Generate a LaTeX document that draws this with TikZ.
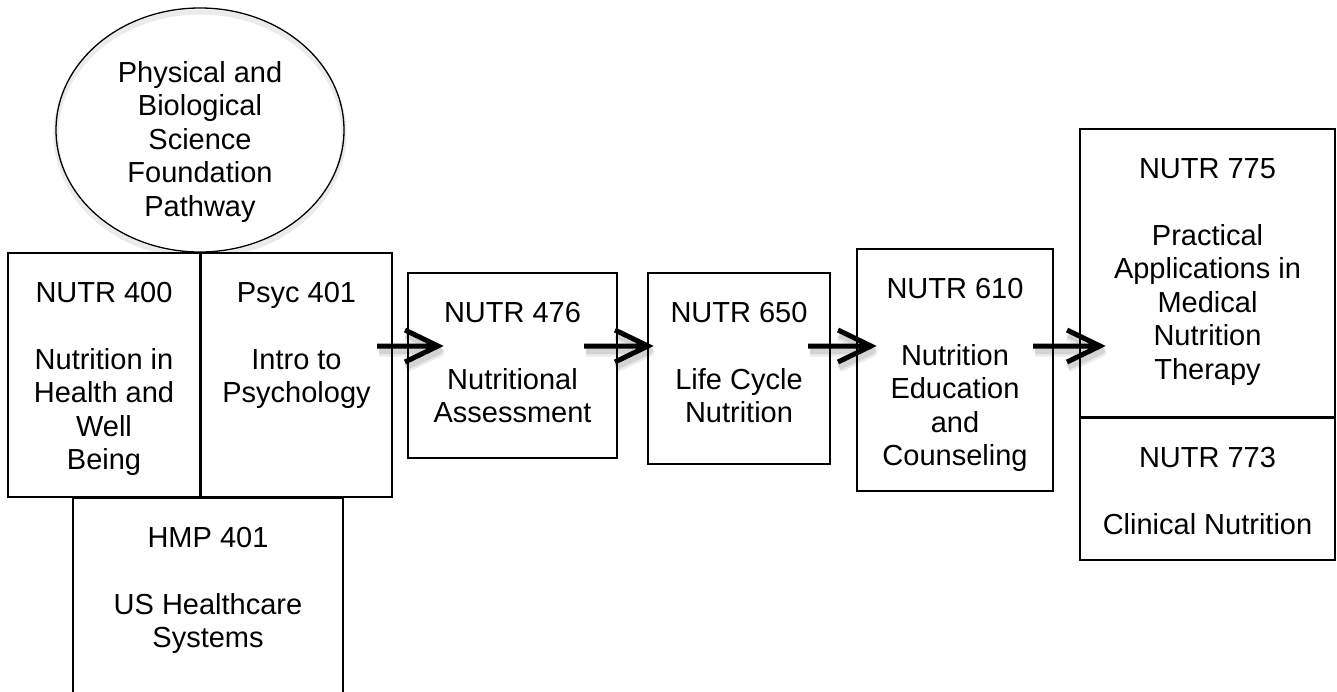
\documentclass[tikz,border=0pt]{standalone}
\usepackage{fontspec}
\setmainfont{Liberation Sans}
\usetikzlibrary{shapes.geometric,calc}
\newcommand{\fl}{\rule{0pt}{25pt}}
\begin{document}
\begin{tikzpicture}[x=1pt,y=-1pt,
  box/.style={draw, line width=1.5pt, fill=white, inner sep=0pt, outer sep=0pt, anchor=north west},
  lbl/.style={font=\fontsize{29}{33.5}\selectfont, align=center, anchor=north, inner sep=0pt},
  arr/.style={line width=5pt, line join=miter, line cap=butt},
  arrshadow/.style={line width=9pt, line join=round, draw=black, opacity=0.08},
  arrshadowb/.style={line width=6pt, line join=round, draw=black, opacity=0.10}]
\useasboundingbox (0,0) rectangle (1337,691);
% ellipse with faint shadow
\draw[black, opacity=0.08, line width=5pt] (200,134) ellipse [x radius=144, y radius=122];
\node[ellipse, draw, line width=1.3pt, minimum width=288pt, minimum height=244pt, inner sep=0pt] (pbs) at (200,130) {};
% boxes
\node[box, minimum width=192pt, minimum height=244pt] (n400) at (8,253) {};
\node[box, minimum width=191pt, minimum height=244pt] (p401) at (201,253) {};
\node[box, minimum width=270pt, minimum height=200pt] (h401) at (73,498) {};
\node[box, minimum width=209pt, minimum height=185pt] (n476) at (408,273) {};
\node[box, minimum width=182pt, minimum height=191pt] (n650) at (648,273) {};
\node[box, minimum width=196pt, minimum height=242pt] (n610) at (857,249) {};
\node[box, minimum width=255pt, minimum height=288pt] (n775) at (1080,129) {};
\node[box, minimum width=255pt, minimum height=142pt] (n773) at (1080,418) {};
% arrow row
\coordinate (row) at (0,346);
\coordinate (s1) at ([xshift=-15pt]p401.east |- row);
\coordinate (t1) at ([xshift=30pt]n476.west |- row);
\coordinate (s2) at ([xshift=-33pt]n476.east |- row);
\coordinate (t2) at ([xshift=0pt]n650.west |- row);
\coordinate (s3) at ([xshift=-22pt]n650.east |- row);
\coordinate (t3) at ([xshift=14pt]n610.west |- row);
\coordinate (s4) at ([xshift=-20pt]n610.east |- row);
\coordinate (t4) at ([xshift=20pt]n775.west |- row);
% shadows
\foreach \s/\t in {s1/t1,s2/t2,s3/t3,s4/t4}{
  \draw[arrshadow] ($(\s)+(2,6)$) -- ($(\t)+(2,6)$) ($(\t)+(-32,-10)$) -- ($(\t)+(2,6)$) -- ($(\t)+(-32,22)$);
  \draw[arrshadowb] ($(\s)+(2,5)$) -- ($(\t)+(2,5)$) ($(\t)+(-32,-11)$) -- ($(\t)+(2,5)$) -- ($(\t)+(-32,21)$);
}
% arrows
\draw[arr] (s1) -- (t1) (t1) ++(-33,-16) -- (t1) -- ++(-33,16);
\draw[arr] (s2) -- (t2) (t2) ++(-33,-16) -- (t2) -- ++(-33,16);
\draw[arr] (s3) -- (t3) (t3) ++(-33,-16) -- (t3) -- ++(-33,16);
\draw[arr] (s4) -- (t4) (t4) ++(-33,-16) -- (t4) -- ++(-33,16);
% texts
\node[lbl] (tpbs) at (200,57) {\fl Physical and\\Biological\\Science\\Foundation\\Pathway};
\node[lbl] (t400) at ([yshift=-24pt]n400.north) {\fl NUTR 400\\[33.5pt]Nutrition in\\Health and\\Well\\Being};
\node[lbl] (tp401) at ([yshift=-24pt]p401.north) {\fl Psyc 401\\[33.5pt]Intro to\\Psychology};
\node[lbl] (th401) at ([yshift=-24pt]h401.north) {\fl HMP 401\\[33.5pt]US Healthcare\\Systems};
\node[lbl] (t476) at ([yshift=-24pt]n476.north) {\fl NUTR 476\\[33.5pt]Nutritional\\Assessment};
\node[lbl] (t650) at ([yshift=-24pt]n650.north) {\fl NUTR 650\\[33.5pt]Life Cycle\\Nutrition};
\node[lbl] (t610) at ([yshift=-24pt]n610.north) {\fl NUTR 610\\[33.5pt]Nutrition\\Education\\and\\Counseling};
\node[lbl] (t775) at ([yshift=-24pt]n775.north) {\fl NUTR 775\\[33.5pt]Practical\\Applications in\\Medical\\Nutrition\\Therapy};
\node[lbl] (t773) at ([yshift=-24pt]n773.north) {\fl NUTR 773\\[33.5pt]Clinical Nutrition};
\end{tikzpicture}
\end{document}
